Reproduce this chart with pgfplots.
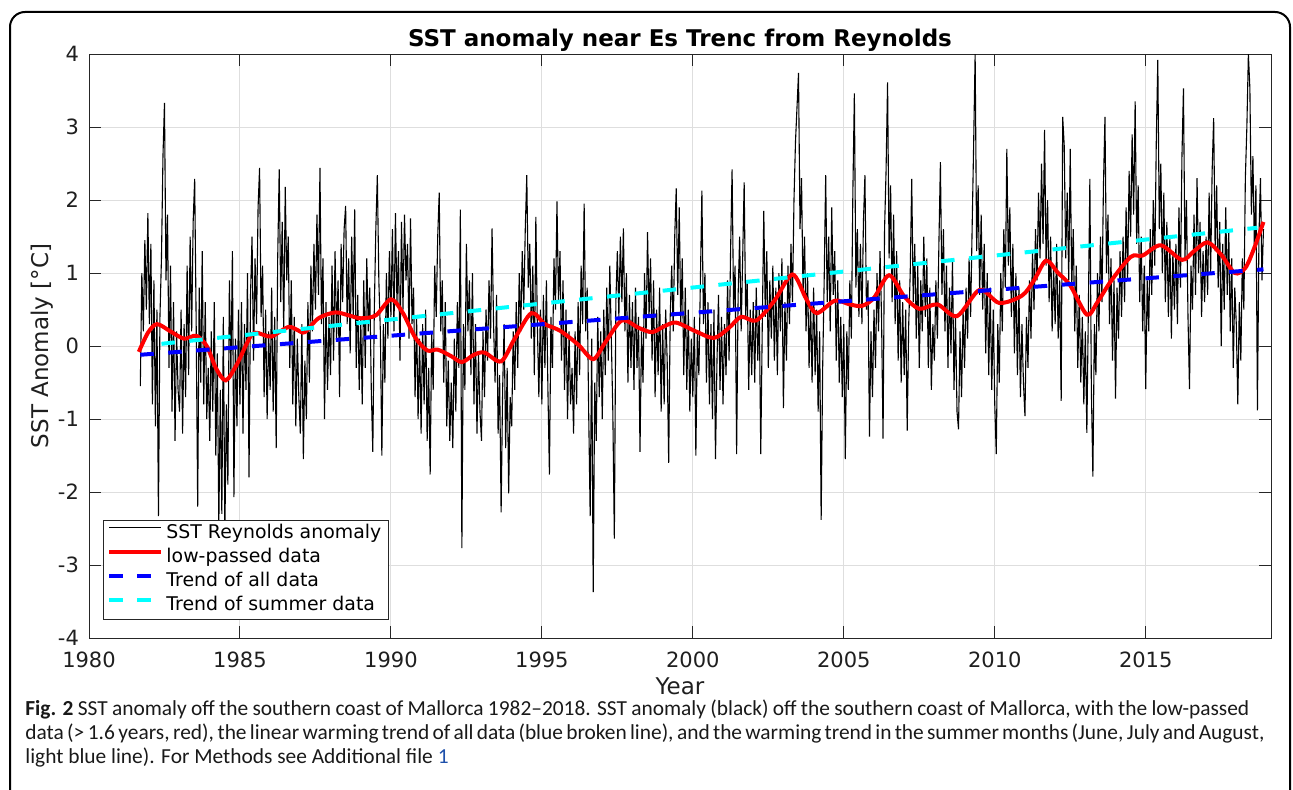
\documentclass[border=0pt]{standalone}
\usepackage{fontspec}
\setmainfont{DejaVu Sans}
\newfontfamily\capfont{Carlito}
\usepackage{pgfplots}
\usepackage{pgfplotstable}
\pgfplotsset{compat=1.18}
\definecolor{axgray}{gray}{0.15}
\definecolor{linkblue}{RGB}{30,80,170}
\definecolor{mred}{rgb}{1,0,0}
\definecolor{mblue}{rgb}{0,0,1}
\definecolor{mcyan}{rgb}{0,1,1}

% SST anomaly, sampled every 0.05 yr starting 1981.70
\pgfplotstableread[row sep=\\]{
y\\
-0.55\\ 1.0\\ 0.2\\ 1.45\\ 0.5\\ 1.82\\
0.3\\ 1.4\\ -0.8\\ 0.9\\ -1.1\\ 0.5\\ -2.33\\ 0.4\\ 1.2\\ 2.6\\ 3.33\\ 0.9\\ 1.8\\ -0.3\\ 1.1\\ -0.9\\ 0.6\\ -1.3\\ 0.2\\ -0.6\\
-0.9\\ 0.5\\ -1.2\\ 0.3\\ -0.7\\ 1.1\\ -0.4\\ 1.5\\ 0.2\\ 1.7\\ 2.29\\ 0.3\\ -2.2\\ 0.8\\ -0.5\\ 1.3\\ -0.8\\ 0.6\\ -1.0\\ -0.3\\
-1.3\\ 0.2\\ -0.9\\ 0.6\\ -1.5\\ -0.1\\ -2.45\\ -0.6\\ -2.3\\ 0.4\\ -2.55\\ -0.8\\ -1.9\\ 0.9\\ -0.4\\ 1.3\\ -2.07\\ 0.1\\ -1.1\\ 0.5\\
-0.8\\ 0.6\\ -1.2\\ 0.3\\ -0.6\\ 1.0\\ -1.8\\ 0.7\\ 1.5\\ -0.2\\ 1.2\\ 0.3\\ 1.9\\ 2.44\\ 0.4\\ 1.1\\ -0.7\\ 0.5\\ -1.0\\ 0.2\\
-0.6\\ 0.8\\ -0.9\\ 0.4\\ -1.4\\ 1.2\\ 2.42\\ 0.6\\ 1.7\\ 0.2\\ 2.18\\ 0.9\\ 1.5\\ -0.3\\ 0.9\\ -0.8\\ 0.4\\ -1.1\\ 0.1\\ -0.7\\
-1.2\\ 0.3\\ -1.55\\ -0.2\\ -1.0\\ 0.6\\ -0.5\\ 1.1\\ 0.2\\ 1.4\\ 0.5\\ 1.8\\ 0.7\\ 2.44\\ 0.3\\ 1.2\\ -1.0\\ 0.6\\ -0.6\\ 0.4\\
-0.4\\ 1.1\\ -0.2\\ 1.3\\ 0.1\\ 0.9\\ -0.7\\ 1.4\\ 0.6\\ 1.6\\ 1.92\\ 0.3\\ 1.2\\ -0.1\\ 1.5\\ 0.4\\ 1.87\\ -0.3\\ 0.7\\ -0.6\\
0.4\\ -0.8\\ 0.9\\ -0.3\\ 1.2\\ 0.2\\ 0.8\\ -0.6\\ -1.45\\ 0.5\\ 1.6\\ 2.34\\ 0.9\\ 0.2\\ -1.5\\ 0.3\\ -0.5\\ 1.0\\ 0.1\\ 1.3\\
0.4\\ 1.6\\ 0.2\\ 1.82\\ 0.6\\ 1.3\\ -0.2\\ 1.7\\ 0.5\\ 1.8\\ 0.9\\ 1.4\\ 0.1\\ 1.75\\ 0.3\\ 0.8\\ -0.7\\ 0.4\\ -1.0\\ 0.1\\
-1.2\\ 0.3\\ -0.8\\ 0.5\\ -1.3\\ -0.3\\ -1.76\\ 0.2\\ -0.6\\ 1.1\\ 0.4\\ 1.5\\ 2.1\\ 0.2\\ 0.9\\ -0.5\\ 0.6\\ -1.1\\ -0.2\\ -1.3\\
-0.5\\ -1.4\\ 0.1\\ -0.9\\ 0.6\\ -0.3\\ 1.87\\ -2.77\\ 0.3\\ -0.6\\ 1.4\\ 0.2\\ 0.9\\ -0.4\\ 1.0\\ -0.8\\ 0.3\\ -1.2\\ -0.1\\ -0.9\\
-1.3\\ 0.2\\ -0.7\\ 0.5\\ -0.2\\ 0.9\\ 0.1\\ 1.61\\ 0.3\\ -0.5\\ 0.7\\ -1.2\\ -0.4\\ -2.28\\ -0.6\\ 0.3\\ -1.4\\ -0.3\\ -2.02\\ -0.7\\
-1.1\\ 0.2\\ -0.6\\ 0.6\\ -0.3\\ 1.0\\ 0.2\\ 1.3\\ 0.5\\ 1.6\\ 2.34\\ 0.8\\ 1.4\\ 0.1\\ 1.1\\ -0.4\\ 1.77\\ 0.3\\ -0.7\\ 0.5\\
-0.8\\ 0.7\\ -0.3\\ 0.9\\ -0.6\\ -1.76\\ 0.4\\ -0.3\\ 1.2\\ 0.5\\ 1.98\\ 0.6\\ 1.3\\ -0.2\\ 0.9\\ -0.6\\ 0.5\\ -1.0\\ 0.2\\ -0.8\\
-0.3\\ -1.2\\ 0.2\\ -0.8\\ 0.6\\ -0.4\\ 1.1\\ 0.3\\ 1.95\\ 0.2\\ 0.8\\ -0.9\\ -2.33\\ 0.1\\ -3.37\\ -0.5\\ -1.3\\ 0.4\\ -0.7\\ 0.2\\
-1.0\\ 0.5\\ -0.4\\ 0.8\\ -0.2\\ 1.1\\ 0.1\\ -0.9\\ -2.64\\ 0.6\\ 1.3\\ 0.4\\ 1.5\\ 0.6\\ 1.61\\ 0.2\\ 1.0\\ -0.5\\ 0.7\\ -0.3\\
0.6\\ -0.6\\ 0.8\\ -0.3\\ 0.4\\ -1.45\\ 0.2\\ -0.5\\ 1.0\\ 0.1\\ 1.56\\ 0.4\\ 1.2\\ -0.2\\ 0.9\\ -0.7\\ 0.5\\ -0.4\\ 0.8\\ -0.9\\
0.3\\ -0.8\\ 0.5\\ -0.2\\ -1.6\\ 0.4\\ 1.1\\ 0.2\\ 1.5\\ 2.16\\ 0.7\\ 1.9\\ 0.3\\ 1.2\\ -0.4\\ 0.8\\ -0.6\\ 0.5\\ -0.9\\ 0.1\\
-0.7\\ 0.4\\ -1.5\\ 0.2\\ -0.4\\ 0.9\\ 2.13\\ 0.3\\ 1.0\\ -0.5\\ 0.6\\ -0.8\\ 0.3\\ -1.0\\ 0.5\\ -1.55\\ -0.2\\ 0.7\\ -0.6\\ 0.4\\
-0.8\\ 0.3\\ -0.4\\ 0.9\\ -0.2\\ 1.3\\ 2.42\\ 0.5\\ 1.1\\ -1.48\\ 0.7\\ 1.5\\ 0.2\\ 1.2\\ 2.24\\ 0.4\\ 0.9\\ -0.6\\ 0.5\\ -0.4\\
0.6\\ -0.5\\ 0.8\\ -0.2\\ 0.5\\ -1.48\\ 0.3\\ 1.85\\ 0.4\\ 1.3\\ -0.3\\ 0.9\\ 0.1\\ 1.1\\ -0.2\\ 0.8\\ -0.4\\ 1.0\\ 0.2\\ 1.2\\
-0.85\\ 0.6\\ -0.2\\ 1.1\\ 0.3\\ 1.4\\ 0.6\\ 2.0\\ 2.8\\ 3.27\\ 3.74\\ 1.6\\ 2.3\\ 0.7\\ 1.5\\ 0.2\\ 1.0\\ -0.3\\ 0.6\\ -0.5\\
0.8\\ -0.4\\ 0.5\\ -0.9\\ 0.2\\ -2.38\\ -0.3\\ 0.9\\ 2.34\\ 0.6\\ 1.5\\ 0.2\\ 1.9\\ 0.7\\ 1.3\\ -0.2\\ 0.9\\ -0.5\\ 0.4\\ -0.7\\
0.3\\ -1.55\\ 0.2\\ -0.6\\ 0.9\\ 0.1\\ 2.1\\ 3.46\\ 0.8\\ 1.6\\ 0.4\\ 1.4\\ 0.3\\ 1.7\\ 2.34\\ 0.5\\ 0.9\\ -1.24\\ 0.2\\ -0.7\\
0.5\\ -0.3\\ 1.0\\ 0.2\\ 1.3\\ 0.4\\ -1.27\\ 1.6\\ 2.4\\ 3.61\\ 1.2\\ 2.2\\ 0.6\\ 1.8\\ 0.3\\ 1.3\\ -0.2\\ 0.9\\ -0.5\\ 0.6\\
-0.4\\ 0.5\\ -1.16\\ 0.3\\ 1.0\\ 2.29\\ 0.6\\ 1.4\\ 0.1\\ 1.1\\ -0.3\\ 0.9\\ 0.2\\ 1.5\\ 0.4\\ 1.2\\ -0.3\\ 0.8\\ -0.6\\ 0.3\\
-0.2\\ 0.9\\ 0.1\\ 1.4\\ 2.52\\ 0.7\\ 1.6\\ 0.2\\ 1.1\\ -0.3\\ 0.8\\ -0.1\\ 1.2\\ -0.6\\ 0.4\\ -0.9\\ -1.14\\ 0.2\\ -0.7\\ 0.5\\
-0.3\\ 0.8\\ 0.1\\ 1.2\\ 0.4\\ 1.6\\ 2.75\\ 4.0\\ 1.3\\ 2.2\\ 0.7\\ 1.8\\ 0.5\\ 1.4\\ -0.1\\ 1.0\\ -0.4\\ 0.8\\ -0.6\\ 0.5\\
-0.8\\ -1.48\\ 0.3\\ -0.5\\ 1.0\\ 0.2\\ 1.6\\ 0.8\\ 2.7\\ 1.1\\ 1.9\\ 0.4\\ 1.4\\ -0.1\\ 1.0\\ -0.4\\ 0.8\\ -0.7\\ 0.3\\ -0.5\\
-0.96\\ 0.4\\ -0.3\\ 0.9\\ 0.1\\ 1.3\\ 0.5\\ 1.6\\ 0.9\\ 2.1\\ 1.2\\ 2.5\\ 1.4\\ 2.96\\ 1.1\\ 2.0\\ 0.6\\ 1.5\\ 0.2\\ 1.1\\
0.3\\ 1.4\\ 0.1\\ 0.9\\ -0.75\\ 3.14\\ 2.75\\ 1.2\\ 2.1\\ 0.9\\ 2.7\\ 0.8\\ 1.6\\ 0.2\\ 1.1\\ -0.3\\ 0.7\\ -0.5\\ 0.4\\ -0.8\\
0.2\\ -1.19\\ 0.5\\ 2.29\\ -0.6\\ -1.79\\ 0.3\\ -0.4\\ 1.0\\ 0.2\\ 1.5\\ 0.6\\ 2.2\\ 3.14\\ 1.0\\ 1.8\\ 0.3\\ 1.2\\ -0.2\\ 0.9\\
-0.72\\ 0.8\\ 0.1\\ 1.3\\ 0.4\\ 1.5\\ 0.6\\ 1.9\\ 0.9\\ 2.4\\ 1.5\\ 2.9\\ 1.8\\ 3.35\\ 1.4\\ 2.2\\ 0.6\\ 1.5\\ 0.2\\ 1.1\\
-0.59\\ 0.9\\ 0.2\\ 1.6\\ 0.7\\ 2.0\\ 1.1\\ 2.8\\ 3.92\\ 1.6\\ 2.5\\ 1.0\\ 2.1\\ 0.6\\ 1.7\\ 0.4\\ 1.5\\ 0.1\\ 1.3\\ 0.5\\
1.4\\ 0.3\\ 1.9\\ 0.8\\ 2.6\\ 3.53\\ 1.2\\ 2.0\\ 0.4\\ -0.59\\ 1.1\\ 0.5\\ 1.8\\ 0.7\\ 2.3\\ 1.0\\ 1.7\\ 0.4\\ 1.3\\ 0.6\\
1.5\\ 0.7\\ 2.1\\ 1.0\\ 2.4\\ 3.12\\ 1.3\\ 2.2\\ 0.8\\ 1.7\\ 0.0\\ 1.4\\ 0.5\\ 1.9\\ 0.7\\ 1.6\\ 0.2\\ 1.2\\ -0.3\\ 0.8\\
0.3\\ -0.8\\ 0.6\\ -0.2\\ 1.2\\ 0.5\\ 2.3\\ 3.0\\ 4.0\\ 3.53\\ 1.8\\ 2.6\\ 1.3\\ 2.2\\ -0.88\\ 1.5\\ 2.3\\ 0.9\\ 1.6\\
}\sstdata

\pgfplotstableread{
x y
1981.65 -0.08
1981.95 0.18
1982.25 0.30
1982.70 0.20
1983.15 0.10
1983.55 0.14
1983.90 0.00
1984.20 -0.30
1984.53 -0.47
1984.90 -0.25
1985.40 0.16
1985.80 0.15
1986.05 0.13
1986.60 0.26
1986.90 0.22
1987.15 0.19
1987.60 0.38
1988.15 0.46
1988.60 0.42
1989.00 0.38
1989.50 0.42
1990.00 0.64
1990.40 0.45
1990.80 0.12
1991.20 -0.06
1991.55 -0.05
1992.00 -0.14
1992.35 -0.22
1992.75 -0.12
1993.10 -0.09
1993.65 -0.21
1994.10 0.10
1994.65 0.45
1995.10 0.30
1995.60 0.21
1996.20 0.02
1996.70 -0.18
1997.10 0.05
1997.65 0.35
1998.20 0.25
1998.65 0.19
1999.05 0.27
1999.45 0.32
2000.10 0.20
2000.70 0.11
2001.20 0.25
2001.60 0.40
2002.10 0.35
2002.70 0.62
2003.30 0.98
2003.75 0.65
2004.10 0.45
2004.70 0.62
2005.20 0.57
2005.60 0.55
2006.00 0.66
2006.50 0.97
2007.00 0.68
2007.50 0.51
2008.10 0.57
2008.75 0.41
2009.50 0.77
2010.15 0.59
2010.90 0.69
2011.30 0.90
2011.70 1.17
2012.10 1.00
2012.50 0.83
2013.05 0.43
2013.40 0.60
2013.85 0.89
2014.50 1.22
2014.90 1.24
2015.50 1.38
2016.20 1.18
2016.60 1.30
2017.05 1.42
2017.50 1.25
2017.95 1.00
2018.30 1.07
2018.60 1.35
2018.90 1.70
}\lowpass

\begin{document}
\begin{tikzpicture}
\useasboundingbox (0,0) rectangle (646.5pt,394.5pt);
\draw[line width=1pt, rounded corners=7.5pt] (5pt,-10pt) -- (5pt,388.5pt) -- (645pt,388.5pt) -- (645pt,-10pt);
\begin{axis}[
  at={(44.5pt,75.5pt)}, anchor=south west,
  scale only axis, width=591pt, height=292pt,
  xmin=1980, xmax=2019.15, ymin=-4, ymax=4,
  xtick={1980,1985,1990,1995,2000,2005,2010,2015},
  xticklabels={1980,1985,1990,1995,2000,2005,2010,2015},
  ytick={-4,-3,-2,-1,0,1,2,3,4},
  yticklabels={-4,-3,-2,-1,0,1,2,3,4},
  tick align=inside, major tick length=6pt,
  grid=major, major grid style={black!13, line width=0.5pt},
  axis line style={axgray, line width=0.5pt},
  every tick/.style={axgray, line width=0.5pt},
  ticklabel style={font=\fontsize{10.5}{12}\selectfont, text=black!88},
  xticklabel style={yshift=-3.5pt},
  yticklabel style={xshift=-1.5pt},
  xlabel={Year},
  xlabel style={at={(axis description cs:0.5,-0.083)}, anchor=center, font=\fontsize{11.5}{13}\selectfont, text=black!88},
  ylabel={SST Anomaly [°C]},
  ylabel style={at={(axis description cs:-0.0395,0.5)}, anchor=center, rotate=0, font=\fontsize{11.5}{13}\selectfont, text=black!88},
  legend style={at={(axis description cs:0.0118,0.0308)}, anchor=south west,
    draw=axgray, line width=0.5pt, fill=white,
    font=\fontsize{9.45}{11}\selectfont,
    inner xsep=2pt, inner ysep=0.5pt,
    nodes={inner xsep=1.5pt, inner ysep=0pt, text height=8.3pt, text depth=3.8pt}},
  legend cell align=left,
  legend image code/.code={\draw[#1, line cap=butt] (0pt,3pt) -- (26pt,3pt);},
]
\addplot[black, line width=0.55pt] table[x expr={1981.70+0.05*\coordindex}, y=y] {\sstdata};
\addlegendentry{SST Reynolds anomaly}
\addplot[mred, line width=2pt, smooth] table[x=x, y=y] {\lowpass};
\addlegendentry{low-passed data}
\addplot[mblue, line width=2pt, dash pattern=on 6.75pt off 7.25pt] coordinates {(1981.70,-0.12) (2018.90,1.05)};
\addlegendentry{Trend of all data}
\addplot[mcyan, line width=2pt, dash pattern=on 6.75pt off 7.25pt] coordinates {(1982.40,0.03) (2018.70,1.62)};
\addlegendentry{Trend of summer data}
\end{axis}
\node[anchor=center, inner sep=0pt, font=\bfseries\fontsize{11.5}{13}\selectfont] at (340pt,374.5pt) {SST anomaly near Es Trenc from Reynolds};
\begin{scope}[every node/.style={anchor=base west, inner sep=0pt, font=\capfont\fontsize{10.7}{12}\selectfont, text=black!90}]
\node at (12.5pt,37pt) {\makebox[612pt][s]{\textbf{Fig. 2} SST anomaly off the southern coast of Mallorca 1982–2018. SST anomaly (black) off the southern coast of Mallorca, with the low-passed}};
\node at (12.5pt,25pt) {\makebox[613pt][s]{data (>\,1.6\,years, red), the linear warming trend of all data (blue broken line), and the warming trend in the summer months (June, July and August,}};
\node at (12.5pt,13pt) {light blue line). For Methods see Additional file {\color{linkblue}1}};
\end{scope}
\end{tikzpicture}
\end{document}
